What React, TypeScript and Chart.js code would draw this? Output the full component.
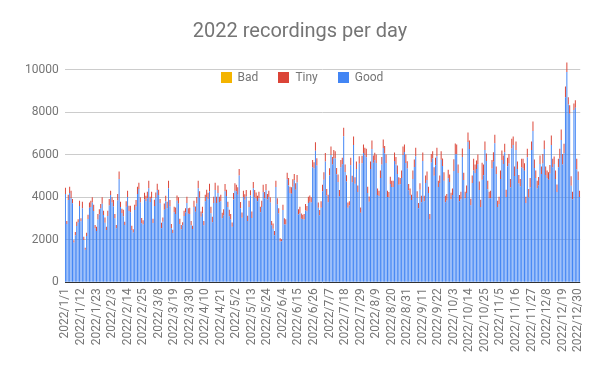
import React, { useEffect, useRef } from 'react';
import { Chart, registerables } from 'chart.js';

Chart.register(...registerables);

const TITLE = '2022 recordings per day';
const seriesNames = ['Bad', 'Tiny', 'Good'];
const seriesColors = ['#f4b400', '#db4437', '#4285f4'];
const yTickValues = [0, 2000, 4000, 6000, 8000, 10000];
const tickLabels = [
  '2022/1/1', '2022/1/12', '2022/1/23', '2022/2/3', '2022/2/14', '2022/2/25', '2022/3/8', '2022/3/19',
  '2022/3/30', '2022/4/10', '2022/4/21', '2022/5/2', '2022/5/13', '2022/5/24', '2022/6/4', '2022/6/15',
  '2022/6/26', '2022/7/7', '2022/7/18', '2022/7/29', '2022/8/9', '2022/8/20', '2022/8/31', '2022/9/11',
  '2022/9/22', '2022/10/3', '2022/10/14', '2022/10/25', '2022/11/5', '2022/11/16', '2022/11/27', '2022/12/8',
  '2022/12/19', '2022/12/30',
];

// Good recordings per day, in consecutive parts
const goodPart1 = [4140, 2730, 3860, 4190, 3950, 3710, 1870, 2210, 2640, 2810, 3580, 2860, 3480, 1980, 1520, 2170, 2970, 3500, 3530, 3740, 3340, 2540, 2400, 2950, 3180, 3470, 3690, 3160, 2790, 2450, 3110, 3610, 4100, 3740, 3560, 3000, 2540, 3840, 4850, 3530, 3250, 3100, 2690, 3550, 4000, 3340, 3290, 2450, 2340, 3390, 3560, 4140, 4380, 3740];
const goodPart2 = [2770, 2710, 3900, 3810, 3950, 4420, 3770, 3950, 2780, 3580, 3970, 4330, 4100, 3710, 2540, 2840, 3400, 3810, 3480, 4420, 3560, 2540, 2310, 3290, 3210, 3830, 3690, 2730, 2490, 2670, 3110, 3280, 3720, 3220, 3200, 2680, 2500, 3530, 3310, 3700, 4420, 3970, 3070, 3240, 2680, 3810, 4000, 3900, 4280, 3240, 2820, 3720, 4330, 3720, 4190, 3770, 3810, 3010, 3130, 4270, 4050, 3530, 3100];
const goodPart3 = [2950, 2600, 3890, 4300, 4280, 4110, 5020, 3470, 3030, 4000, 3880, 4030, 2870, 3530, 4070, 3020, 4410, 3980, 3920, 3810, 3950, 3290, 3530, 4230, 3940, 4320, 3890, 4000, 3740, 2680, 2510, 2210, 4470, 3650, 3230, 1910, 1920, 3390, 2710, 2710, 4840, 4550, 4190, 4160, 4490, 4790, 4350, 4690, 3180, 3240, 2980, 2970, 2950, 3370, 3330, 3720, 3780, 3740];
const goodPart4 = [5400, 5340, 6180, 5480, 3500, 3140, 3500, 4280, 4820, 5670, 4080, 3760, 5010, 5980, 5530, 5820, 5810, 5070, 4710, 4030, 5400, 5550, 6860, 5180, 4730, 3500, 3610, 5500, 4700, 6450, 4630, 5320, 4240, 5570, 3260, 5590, 6070, 5970, 5870, 4190, 3780, 5320, 6260, 5610, 5730, 5600, 4100, 4050, 4900, 5530, 6310, 6050, 5600, 4000, 3990, 4610, 4470];
const goodPart5 = [4470, 5700, 5530, 5080, 4580, 4600, 4900, 5980, 6120, 5600, 5340, 4320, 4100, 3860, 4850, 5420, 5920, 3970, 3470, 4350, 3760, 5700, 3810, 4660, 4800, 4190, 2950, 5630, 5810, 5000, 5500, 5920, 4470, 4660, 5760, 5460, 4770, 3760, 3840, 4890, 4710, 3900, 4100, 5230, 6020, 6020, 5130, 3800, 3900, 5890, 4800, 3950, 4190, 6590, 6260, 3620, 4660, 5250, 5130, 5320, 5550];
const goodPart6 = [4330, 3530, 4810, 5030, 6220, 5700, 4370, 3950, 3950, 5350, 5660, 6530, 5090, 3530, 3670, 4850, 5740, 5560, 6110, 4000, 5450, 5580, 4450, 6290, 6450, 4990, 6220, 5320, 4640, 4500, 5400, 5350, 5240, 3720, 5870, 3980, 4450, 6220, 7110, 5370, 4900, 4420, 4550, 5560, 5090, 5580, 6260, 5040, 4900, 4820, 5110, 6450, 5400, 5560, 4850, 4240, 5400, 5820, 6680, 5530, 6060, 8700, 9880, 8350, 7920, 4530, 3900, 8100, 8200, 5300, 4800, 4000];

// Tiny recordings per day
const tinyPart1 = [300, 150, 250, 300, 350, 200, 100, 150, 200, 150, 250, 150, 300, 150, 100, 150, 200, 250, 300, 250, 300, 150, 200, 250, 250, 200, 300, 200, 250, 150, 250, 300, 200, 250, 300, 200, 150, 300, 350, 250, 200, 300, 150, 250, 300, 250, 300, 200, 150, 250, 300, 350, 300, 250];
const tinyPart2 = [250, 200, 300, 250, 300, 350, 250, 300, 200, 300, 250, 300, 250, 200, 250, 200, 300, 250, 300, 350, 300, 200, 150, 250, 300, 250, 300, 250, 200, 150, 250, 200, 300, 250, 300, 200, 150, 300, 250, 300, 350, 300, 250, 300, 200, 300, 350, 300, 350, 300, 250, 300, 350, 300, 350, 250, 300, 250, 300, 350, 300, 250, 300];
const tinyPart3 = [250, 200, 300, 350, 300, 350, 300, 300, 250, 300, 250, 300, 250, 300, 250, 300, 300, 350, 300, 250, 300, 250, 300, 350, 300, 300, 250, 300, 250, 200, 250, 200, 300, 300, 250, 150, 100, 250, 300, 250, 300, 350, 300, 300, 350, 300, 300, 350, 250, 300, 250, 200, 250, 300, 250, 300, 300, 250];
const tinyPart4 = [350, 300, 400, 350, 250, 250, 300, 300, 350, 400, 300, 350, 350, 400, 350, 400, 350, 300, 350, 300, 350, 300, 400, 350, 300, 250, 200, 350, 300, 400, 300, 350, 300, 350, 250, 350, 400, 350, 400, 300, 250, 350, 400, 350, 350, 400, 300, 250, 350, 350, 400, 350, 400, 300, 250, 350, 300];
const tinyPart5 = [300, 400, 350, 400, 350, 300, 350, 400, 350, 400, 350, 300, 300, 250, 400, 350, 400, 300, 250, 300, 300, 400, 250, 350, 400, 300, 250, 400, 350, 400, 350, 400, 300, 350, 400, 350, 400, 300, 300, 400, 350, 300, 300, 550, 500, 450, 400, 300, 350, 400, 350, 300, 350, 450, 400, 300, 350, 550, 400, 400, 450];
const tinyPart6 = [400, 350, 800, 500, 400, 350, 400, 300, 350, 400, 450, 400, 350, 300, 350, 400, 450, 400, 400, 350, 400, 450, 400, 450, 400, 450, 400, 350, 400, 350, 400, 450, 350, 300, 400, 400, 450, 400, 450, 400, 350, 350, 400, 400, 350, 450, 400, 400, 350, 350, 400, 450, 400, 350, 400, 350, 400, 450, 500, 500, 450, 500, 450, 350, 400, 450, 350, 300, 350, 500, 400, 300];

// Bad recordings: none visible in the picture
const badVals: number[] = [];

const goodVals = [...goodPart1, ...goodPart2, ...goodPart3, ...goodPart4, ...goodPart5, ...goodPart6];
const tinyVals = [...tinyPart1, ...tinyPart2, ...tinyPart3, ...tinyPart4, ...tinyPart5, ...tinyPart6];

function buildCategories(count: number): string[] {
  const out: string[] = [];
  for (let i = 0; i < count; i++) {
    const d = new Date(Date.UTC(2022, 0, 1 + i));
    out.push(`${d.getUTCFullYear()}/${d.getUTCMonth() + 1}/${d.getUTCDate()}`);
  }
  return out;
}
const categories = buildCategories(goodVals.length);

const TEXT = '#757575';
const FONT = 'Roboto';

const legendPlugin = {
  id: 'insideLegend',
  afterDraw(chart: any) {
    const ctx = chart.ctx as CanvasRenderingContext2D;
    ctx.save();
    ctx.font = `12px ${FONT}`;
    const box = 11, gap = 6, itemGap = 20;
    const items = seriesNames.map((n, i) => ({ n, c: seriesColors[i], w: ctx.measureText(n).width }));
    const total = items.reduce((s, it) => s + box + gap + it.w, 0) + itemGap * (items.length - 1);
    let x = chart.width / 2 + 2 - total / 2;
    const y = chart.chartArea.top + 16;
    ctx.textBaseline = 'middle';
    ctx.textAlign = 'left';
    items.forEach((it) => {
      ctx.fillStyle = it.c;
      ctx.fillRect(Math.round(x), Math.round(y - box / 2), box, box);
      x += box + gap;
      ctx.fillStyle = TEXT;
      ctx.fillText(it.n, x, y + 0.5);
      x += it.w + itemGap;
    });
    ctx.restore();
  },
};

export default function App() {
  const ref = useRef<HTMLCanvasElement>(null);
  useEffect(() => {
    if (!ref.current) return;
    Chart.defaults.font.family = FONT;
    const chart = new Chart(ref.current, {
      type: 'bar',
      data: {
        labels: categories,
        datasets: [
          { label: 'Good', data: goodVals, backgroundColor: seriesColors[2], borderWidth: 0 },
          { label: 'Tiny', data: tinyVals, backgroundColor: seriesColors[1], borderWidth: 0 },
          { label: 'Bad', data: badVals, backgroundColor: seriesColors[0], borderWidth: 0 },
        ],
      },
      options: {
        animation: false,
        responsive: true,
        maintainAspectRatio: false,
        devicePixelRatio: 1,
        events: [],
        datasets: { bar: { categoryPercentage: 1, barPercentage: 0.7 } },
        layout: { padding: { left: 19, right: 19, top: 0, bottom: 13 } },
        plugins: {
          legend: { display: false },
          tooltip: { enabled: false },
          title: {
            display: true,
            text: TITLE,
            color: TEXT,
            font: { family: FONT, size: 20, weight: 'normal' },
            padding: { top: 20, bottom: 17 },
          },
        },
        scales: {
          x: {
            stacked: true,
            grid: { display: false, drawTicks: false },
            border: { display: false },
            ticks: {
              autoSkip: false,
              minRotation: 90,
              maxRotation: 90,
              padding: 6,
              color: TEXT,
              font: { family: FONT, size: 12 },
              callback: (_v: any, i: number) => (tickLabels.includes(categories[i]) ? categories[i] : ''),
            },
          },
          y: {
            stacked: true,
            min: 0,
            max: 10400,
            grid: {
              drawTicks: false,
              color: (c: any) => (c.tick && c.tick.value === 0 ? '#333333' : '#cccccc'),
            },
            border: { display: false },
            afterBuildTicks: (axis: any) => {
              axis.ticks = yTickValues.map((v) => ({ value: v }));
            },
            ticks: {
              padding: 6,
              color: TEXT,
              font: { family: FONT, size: 12 },
              callback: (v: any) => String(v),
            },
          },
        },
      },
      plugins: [legendPlugin],
    });
    return () => chart.destroy();
  }, []);
  return (
    <div style={{ position: 'fixed', left: 0, top: 0, width: 600, height: 371, background: '#ffffff' }}>
      <canvas ref={ref} />
    </div>
  );
}
